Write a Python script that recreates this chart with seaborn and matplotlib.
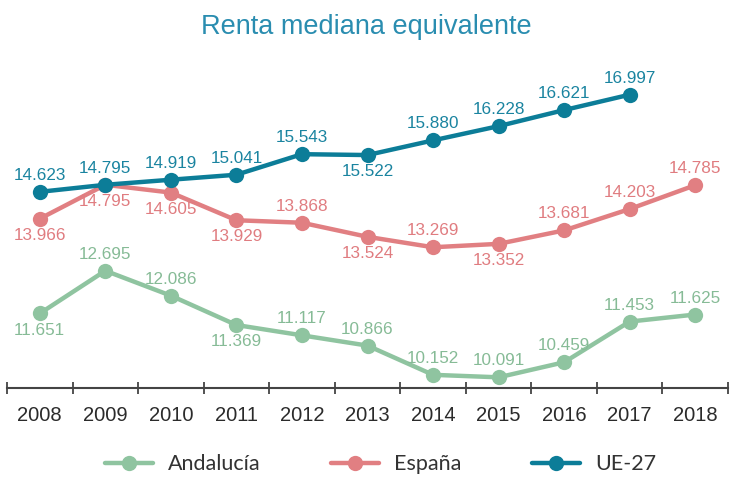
import numpy as np
import pandas as pd
import matplotlib.pyplot as plt
import seaborn as sns

# data (euros)
years = ["2008", "2009", "2010", "2011", "2012", "2013",
         "2014", "2015", "2016", "2017", "2018"]
andalucia = [11651, 12695, 12086, 11369, 11117, 10866,
             10152, 10091, 10459, 11453, 11625]
espana = [13966, 14795, 14605, 13929, 13868, 13524,
          13269, 13352, 13681, 14203, 14785]
ue27 = [14623, 14795, 14919, 15041, 15543, 15522,
        15880, 16228, 16621, 16997]
series_names = ["Andalucía", "España", "UE-27"]

# label placement: +1 above the point, -1 below
side_andalucia = [-1, 1, 1, -1, 1, 1, 1, 1, 1, 1, 1]
side_espana = [-1, -1, -1, -1, 1, -1, 1, -1, 1, 1, 1]
side_ue27 = [1, 1, 1, 1, 1, -1, 1, 1, 1, 1]

colors = {"Andalucía": "#8fc4a0", "España": "#e17f82", "UE-27": "#0c7d98"}
text_colors = {"Andalucía": "#86bb96", "España": "#e07c80", "UE-27": "#1a84a0"}

rows = []
for name, vals in zip(series_names, [andalucia, espana, ue27]):
    for i, v in enumerate(vals):
        rows.append({"serie": name, "pos": i, "valor": v})
df = pd.DataFrame(rows)

sns.set_theme(style="white")
plt.rcParams["font.family"] = ["Liberation Sans", "DejaVu Sans"]

fig = plt.figure(figsize=(7.32, 4.91), dpi=100)
ax = fig.add_axes([7 / 732, 103 / 491, 721 / 732, 318 / 491])

sns.lineplot(data=df, x="pos", y="valor", hue="serie", palette=colors,
             hue_order=series_names, marker="o", markersize=11,
             markeredgewidth=0, linewidth=3.2, ax=ax, legend=True)

def fmt(v):
    return f"{v:,}".replace(",", ".")

for name, vals, sides in zip(series_names, [andalucia, espana, ue27],
                             [side_andalucia, side_espana, side_ue27]):
    for i, (v, s) in enumerate(zip(vals, sides)):
        ax.annotate(fmt(v), (i, v), xytext=(0, 6.5 * s), textcoords="offset points",
                    ha="center", va="bottom" if s > 0 else "top",
                    fontsize=12.3, color=text_colors[name])

ax.set_xlim(-0.5, 10.5)
ax.set_ylim(9830, 17600)
ax.set_xticks(range(len(years)))
ax.set_xticklabels(years)
ax.set_xticks(np.arange(-0.5, 11, 1), minor=True)
ax.tick_params(axis="x", which="major", length=0, pad=13, labelsize=14.5,
               labelcolor="#2b2b2b")
ax.tick_params(axis="x", which="minor", length=9, width=1.3,
               direction="inout", color="#444444", bottom=True)
ax.set_yticks([])
ax.set_xlabel("")
ax.set_ylabel("")
for side in ["top", "right", "left"]:
    ax.spines[side].set_visible(False)
ax.spines["bottom"].set_color("#444444")
ax.spines["bottom"].set_linewidth(1.5)

handles, labels = ax.get_legend_handles_labels()
ax.get_legend().remove()
fig.legend(handles, labels, loc="lower center", bbox_to_anchor=(0.52, -0.005),
           ncol=3, frameon=False, columnspacing=3.3, handlelength=2.2,
           handletextpad=0.7, labelcolor="#333333",
           prop={"family": "Lato", "size": 15.5})

fig.suptitle("Renta mediana equivalente", y=0.972, fontsize=19.5,
             color="#2a8db0")

fig.savefig("out.png", dpi=100)
